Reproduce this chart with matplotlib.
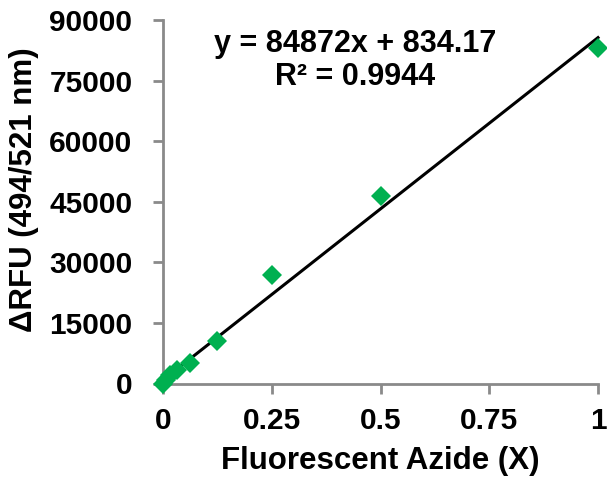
import matplotlib
matplotlib.use("Agg")
import matplotlib.pyplot as plt
import numpy as np

conc = [0, 0.0078, 0.0156, 0.03125, 0.0625, 0.125, 0.25, 0.5, 1.0]
rfu = [0, 800, 2100, 3300, 5000, 10600, 27000, 46500, 83100]
slope = 84872
intercept = 834.17
x_ticks = [0, 0.25, 0.5, 0.75, 1]
x_tick_labels = ["0", "0.25", "0.5", "0.75", "1"]
y_ticks = [0, 15000, 30000, 45000, 60000, 75000, 90000]

plt.rcParams['font.family'] = ['Liberation Sans', 'DejaVu Sans']
plt.rcParams['font.weight'] = 'bold'

W, H = 607, 479
fig = plt.figure(figsize=(W / 100, H / 100), dpi=100)
ax = fig.add_axes([163 / W, 1 - 383.5 / H, 435 / W, 363.2 / H])

xl = np.array([0, 1.0])
ax.plot(xl, slope * xl + intercept, color='black', lw=2.2, zorder=2,
        clip_on=False)
ax.plot(conc, rfu, linestyle='none', marker='D', ms=10.5, color='#00B050',
        markeredgewidth=0, zorder=3, clip_on=False)

ax.set_xlim(0, 1)
ax.set_ylim(0, 90000)
ax.set_xticks(x_ticks)
ax.set_xticklabels(x_tick_labels)
ax.set_yticks(y_ticks)
for s in ['top', 'right']:
    ax.spines[s].set_visible(False)
for s in ['left', 'bottom']:
    ax.spines[s].set_color('#8a8a8a')
    ax.spines[s].set_linewidth(2)
ax.tick_params(direction='out', length=7, width=2, color='#8a8a8a',
               labelsize=21.5)
ax.tick_params(axis='y', pad=15)
ax.tick_params(axis='x', pad=10)
for lab in ax.get_xticklabels() + ax.get_yticklabels():
    lab.set_fontweight('bold')

fig.text(380 / W, 1 - 461 / H, 'Fluorescent Azide (X)', ha='center', va='center',
         fontsize=22.5, fontweight='bold')
fig.text(24 / W, 1 - 190 / H, 'ΔRFU (494/521 nm)', ha='center', va='center',
         rotation=90, fontsize=22.5, fontweight='bold')

fig.text(355 / W, 1 - 52 / H, 'y = 84872x + 834.17', ha='center', va='baseline',
         fontsize=22, fontweight='bold')
fig.text(355 / W, 1 - 85 / H, 'R² = 0.9944', ha='center', va='baseline',
         fontsize=22, fontweight='bold')

fig.savefig('out.png', dpi=100)
